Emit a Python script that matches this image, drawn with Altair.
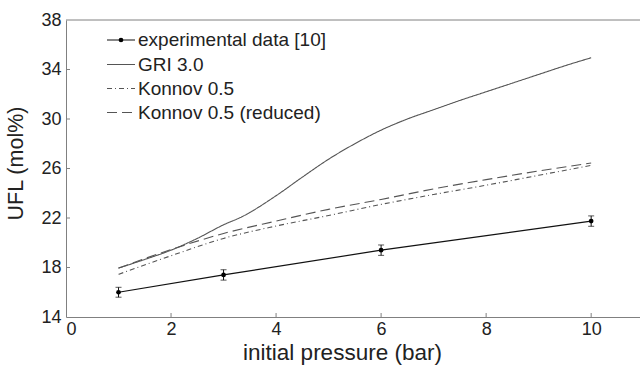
import altair as alt
import pandas as pd

# ---------------- data ----------------
gri_x = [1, 1.5, 2, 2.5, 3, 3.35, 4, 4.5, 5, 5.5, 6, 6.5, 7, 7.5, 8, 8.5, 9, 9.5, 10]
gri_y = [17.95, 18.65, 19.4, 20.35, 21.45, 22.1, 23.8, 25.3, 26.75, 28.0, 29.1, 30.0,
         30.75, 31.5, 32.2, 32.9, 33.6, 34.3, 34.95]

kon_x = [1, 2, 3, 4, 5, 6, 7, 8, 9, 10]
kon_y = [17.45, 18.95, 20.35, 21.35, 22.2, 23.1, 23.9, 24.65, 25.45, 26.25]

red_x = [1, 2, 3, 4, 5, 6, 7, 8, 9, 10]
red_y = [17.95, 19.45, 20.75, 21.75, 22.7, 23.5, 24.35, 25.1, 25.8, 26.45]

exp_x = [1, 3, 6, 10]
exp_y = [16.0, 17.4, 19.4, 21.75]
exp_err = [0.4, 0.42, 0.42, 0.42]

x_ticks = [0, 2, 4, 6, 8, 10]
y_ticks = [14, 18, 22, 26, 30, 34, 38]

legend_labels = ["experimental data [10]", "GRI 3.0", "Konnov 0.5", "Konnov 0.5 (reduced)"]

# ---------------- layout ----------------
W, H = 574, 297
FONT = "Liberation Sans"
AXIS_C = "#808080"
LINE_C = "#555555"
TEXT_C = "#222222"

xs = alt.Scale(domain=[0, 10.93], nice=False, zero=False)
ys = alt.Scale(domain=[14, 38], nice=False, zero=False)

series = pd.concat([
    pd.DataFrame({"p": gri_x, "ufl": gri_y, "model": "GRI 3.0"}),
    pd.DataFrame({"p": kon_x, "ufl": kon_y, "model": "Konnov 0.5"}),
    pd.DataFrame({"p": red_x, "ufl": red_y, "model": "Konnov 0.5 (reduced)"}),
])
exp = pd.DataFrame({"p": exp_x, "ufl": exp_y,
                    "lo": [v - e for v, e in zip(exp_y, exp_err)],
                    "hi": [v + e for v, e in zip(exp_y, exp_err)]})

dash_map = {"GRI 3.0": [1, 0], "Konnov 0.5": [5, 3, 1, 3], "Konnov 0.5 (reduced)": [10, 5]}

x_axis = alt.Axis(values=x_ticks, tickSize=0, grid=False, domainColor=AXIS_C,
                  labelFont=FONT, labelFontSize=18, labelColor=TEXT_C, labelPadding=3,
                  title="initial pressure (bar)", titleFont=FONT, titleFontSize=22.5,
                  titleFontWeight="normal", titleColor=TEXT_C, titleX=276, titleY=42,
                  titleBaseline="alphabetic", titleAlign="center")
y_axis = alt.Axis(values=y_ticks, tickSize=0, grid=False, domainColor=AXIS_C,
                  labelFont=FONT, labelFontSize=18, labelColor=TEXT_C, labelPadding=5,
                  title="UFL (mol%)", titleFont=FONT, titleFontSize=21.5,
                  titleFontWeight="normal", titleColor=TEXT_C, titleX=-50, titleY=143,
                  titleAngle=-90, titleBaseline="middle", titleAlign="center")

layers = []
for name in ["GRI 3.0", "Konnov 0.5", "Konnov 0.5 (reduced)"]:
    d = series[series.model == name]
    layers.append(
        alt.Chart(d).mark_line(color=LINE_C, strokeWidth=1.1, strokeDash=dash_map[name],
                               interpolate="monotone").encode(
            x=alt.X("p:Q", scale=xs, axis=x_axis),
            y=alt.Y("ufl:Q", scale=ys, axis=y_axis))
    )

exp_base = alt.Chart(exp)
layers.append(exp_base.mark_line(color="#111111", strokeWidth=1.2).encode(
    x=alt.X("p:Q", scale=xs), y=alt.Y("ufl:Q", scale=ys)))
layers.append(exp_base.mark_rule(color="#111111", strokeWidth=1).encode(
    x=alt.X("p:Q", scale=xs), y=alt.Y("lo:Q", scale=ys), y2="hi:Q"))
for col in ["lo", "hi"]:
    layers.append(exp_base.mark_tick(color="#111111", orient="horizontal", size=6,
                                     thickness=1).encode(
        x=alt.X("p:Q", scale=xs), y=alt.Y(f"{col}:Q", scale=ys)))
layers.append(exp_base.mark_circle(color="#000000", size=22, opacity=1).encode(
    x=alt.X("p:Q", scale=xs), y=alt.Y("ufl:Q", scale=ys)))

# inward ticks
xt = pd.DataFrame({"t": x_ticks[1:]})
yt = pd.DataFrame({"t": y_ticks[1:-1]})
layers.append(alt.Chart(xt).mark_rule(color=AXIS_C).encode(
    x=alt.X("t:Q", scale=xs), y=alt.value(H), y2=alt.value(H - 4)))
layers.append(alt.Chart(yt).mark_rule(color=AXIS_C).encode(
    y=alt.Y("t:Q", scale=ys), x=alt.value(0), x2=alt.value(4)))

# top frame line
one = pd.DataFrame({"a": [0]})
layers.append(alt.Chart(one).mark_rule(color=AXIS_C).encode(
    x=alt.value(0), x2=alt.value(W), y=alt.value(0)))

# legend (manual)
rows_y = [20, 44.5, 68.5, 92.5]
dashes = [[1, 0], [1, 0], [5, 3, 1, 3], [10, 5]]
for lab, ry, ds in zip(legend_labels, rows_y, dashes):
    col = "#111111" if lab.startswith("experimental") else LINE_C
    layers.append(alt.Chart(one).mark_rule(color=col, strokeWidth=1.1, strokeDash=ds).encode(
        x=alt.value(41), x2=alt.value(69), y=alt.value(ry)))
    layers.append(alt.Chart(pd.DataFrame({"lab": [lab]})).mark_text(
        align="left", baseline="middle", font=FONT, fontSize=19, color=TEXT_C).encode(
        x=alt.value(72), y=alt.value(ry), text="lab:N"))
layers.append(alt.Chart(one).mark_circle(color="#000000", size=22, opacity=1).encode(
    x=alt.value(55), y=alt.value(rows_y[0])))

chart = alt.layer(*layers).properties(
    width=W, height=H,
    padding={"left": 66, "top": 20, "right": 0, "bottom": 50},
    autosize=alt.AutoSizeParams(type="none"),
    background="white",
).configure_view(stroke=None)

chart.save("out.html", embed_options={"renderer": "svg", "actions": False})
